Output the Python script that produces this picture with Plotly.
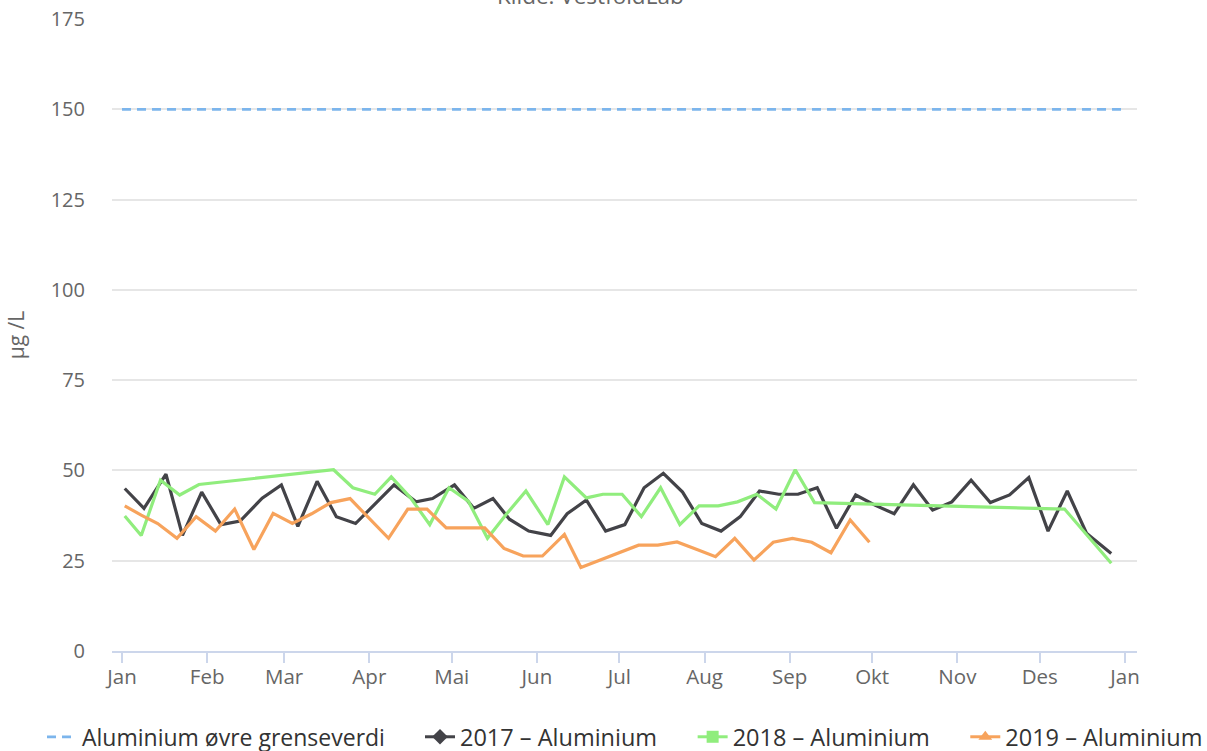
import plotly.graph_objects as go

BASE_YEAR = "2017"

month_tick_dates = ["2017-01-01", "2017-02-01", "2017-03-01", "2017-04-01", "2017-05-01",
                    "2017-06-01", "2017-07-01", "2017-08-01", "2017-09-01", "2017-10-01",
                    "2017-11-01", "2017-12-01", "2018-01-01"]
month_labels = ["Jan", "Feb", "Mar", "Apr", "Mai", "Jun", "Jul", "Aug", "Sep", "Okt",
                "Nov", "Des", "Jan"]

limit_dates = ["2017-01-01", "2018-01-01"]
limit_values = [150, 150]

dates_2017 = ["01-02", "01-09", "01-17", "01-23", "01-30", "02-06", "02-13", "02-21", "02-28",
              "03-06", "03-13", "03-20", "03-27", "04-03", "04-10", "04-18", "04-24", "05-02",
              "05-09", "05-16", "05-22", "05-29", "06-06", "06-12", "06-19", "06-26", "07-03",
              "07-10", "07-17", "07-24", "07-31", "08-07", "08-14", "08-21", "08-28", "09-04",
              "09-11", "09-18", "09-25", "10-02", "10-09", "10-16", "10-23", "10-30", "11-06",
              "11-13", "11-20", "11-27", "12-04", "12-11", "12-18", "12-27"]
values_2017 = [45, 39.5, 49, 32, 44, 35, 36, 42.3, 46,
               34.5, 47, 37.2, 35.3, 40.7, 46, 41.3, 42.2, 46,
               39.5, 42.2, 36.5, 33.2, 32, 38, 41.8, 33.2, 35,
               45.2, 49.2, 44, 35.3, 33.2, 37.2, 44.3, 43.4, 43.4,
               45.2, 34, 43.2, 40.4, 38, 46, 39, 41.3, 47.3,
               41.1, 43.2, 48, 33.2, 44.3, 32.6, 27]

dates_2018 = ["01-02", "01-08", "01-15", "01-22", "01-29", "03-19", "03-26", "04-03", "04-09",
              "04-16", "04-23", "04-30", "05-07", "05-14", "05-21", "05-28", "06-05", "06-11",
              "06-19", "06-25", "07-02", "07-09", "07-16", "07-23", "07-30", "08-06", "08-13",
              "08-20", "08-27", "09-03", "09-10", "12-10", "12-27"]
values_2018 = [37.4, 32, 47.3, 43.2, 46.1, 50.2, 45.2, 43.4, 48.2,
               42.4, 35, 45.2, 41.5, 31.2, 38, 44.3, 35, 48.2,
               42.4, 43.4, 43.4, 37.2, 45.2, 35, 40.2, 40.2, 41.3,
               43.4, 39.3, 50.2, 41.1, 39.3, 24.3]

dates_2019 = ["01-02", "01-08", "01-14", "01-21", "01-28", "02-04", "02-11", "02-18", "02-25",
              "03-04", "03-11", "03-18", "03-25", "04-01", "04-08", "04-15", "04-22", "04-29",
              "05-06", "05-13", "05-20", "05-27", "06-03", "06-11", "06-17", "06-24", "07-01",
              "07-08", "07-15", "07-22", "07-29", "08-05", "08-12", "08-19", "08-26", "09-02",
              "09-09", "09-16", "09-23", "09-30"]
values_2019 = [40.2, 37.6, 35.3, 31.2, 37.2, 33.2, 39.3, 28.1, 38.1,
               35.3, 38, 41.1, 42.2, 36.6, 31.2, 39.3, 39.3, 34.1,
               34.1, 34.1, 28.4, 26.3, 26.3, 32.3, 23.1, 25.2, 27.3,
               29.3, 29.3, 30.2, 28.2, 26.1, 31.2, 25.2, 30.1, 31.2,
               30.1, 27.2, 36.3, 30.1]

series_names = ["Aluminium øvre grenseverdi", "2017 – Aluminium", "2018 – Aluminium", "2019 – Aluminium"]
colors = ["#7cb5ec", "#434348", "#90ed7d", "#f7a35c"]
symbols = [None, "diamond", "square", "triangle-up"]

FONT = "Open Sans"
PAD = "\u00a0" * 5

# plot area spans x 112..1137, y 19..651 of the page
ML, MT, PW, PH = 112, 19, 1025, 632
W, H = 1207, 751


def on_axis(md_list):
    return [BASE_YEAR + "-" + md for md in md_list]


def px_x(px):
    return (px - ML) / PW


def px_y(py):
    return 1 - (py - MT) / PH


fig = go.Figure()

fig.add_trace(go.Scatter(x=limit_dates, y=limit_values, mode="lines", name=series_names[0],
                         line=dict(color=colors[0], width=2.8, dash="9px,6px"),
                         legend="legend", showlegend=True, hoverinfo="skip"))

for i, (d, v) in enumerate([(dates_2017, values_2017), (dates_2018, values_2018),
                            (dates_2019, values_2019)], start=1):
    label = series_names[i] + (PAD if i < 3 else "")
    fig.add_trace(go.Scatter(x=on_axis(d), y=v, mode="lines", name=label,
                             line=dict(color=colors[i], width=3.2),
                             legendgroup="g%d" % i, showlegend=False))
    fig.add_trace(go.Scatter(x=[None], y=[None], mode="lines+markers", name=label,
                             line=dict(color=colors[i], width=3),
                             marker=dict(symbol=symbols[i], size=12, color=colors[i]),
                             legendgroup="g%d" % i, legend="legend2", showlegend=True))

legend_common = dict(orientation="h", yanchor="middle", xanchor="left", itemwidth=30,
                     bgcolor="rgba(0,0,0,0)", borderwidth=0)

fig.update_layout(
    width=W, height=H,
    margin=dict(l=ML, r=W - ML - PW, t=MT, b=H - MT - PH, autoexpand=False),
    paper_bgcolor="white", plot_bgcolor="white",
    font=dict(family=FONT, color="#666666", size=20),
    showlegend=True,
    legend=dict(x=px_x(42), y=px_y(737),
                font=dict(size=23, color="#333333", family=FONT), **legend_common),
    legend2=dict(x=px_x(420), y=px_y(737),
                 font=dict(size=23.5, color="#333333", family=FONT), **legend_common),
    annotations=[dict(text="Kilde: VestfoldLab", xref="paper", yref="paper", x=px_x(590), y=px_y(13),
                      xanchor="center", yanchor="bottom", showarrow=False,
                      font=dict(size=22.5, color="#666666", family=FONT))],
)

fig.update_xaxes(type="date",
                 range=["2016-12-28 08:40", "2018-01-05 09:00"],
                 tickvals=month_tick_dates, ticktext=month_labels,
                 showgrid=False, zeroline=False,
                 showline=True, linecolor="#ccd6eb", linewidth=2,
                 ticks="outside", ticklen=10, tickcolor="#ccd6eb", tickwidth=1.5,
                 ticklabelstandoff=-4,
                 tickfont=dict(size=20.5, color="#666666"), automargin=False)

fig.update_yaxes(range=[0, 175], dtick=25, tick0=0,
                 showgrid=True, gridcolor="#e6e6e6", gridwidth=1.5,
                 zeroline=False, showline=False,
                 ticks="", ticklabelstandoff=26, ticklabeloverflow="allow",
                 tickfont=dict(size=20, color="#666666"), automargin=False,
                 title=dict(text="µg /L", font=dict(size=21, color="#666666"), standoff=20))

fig.write_html("out.html", config={"displayModeBar": False},
               post_script="document.body.style.margin='0';")
